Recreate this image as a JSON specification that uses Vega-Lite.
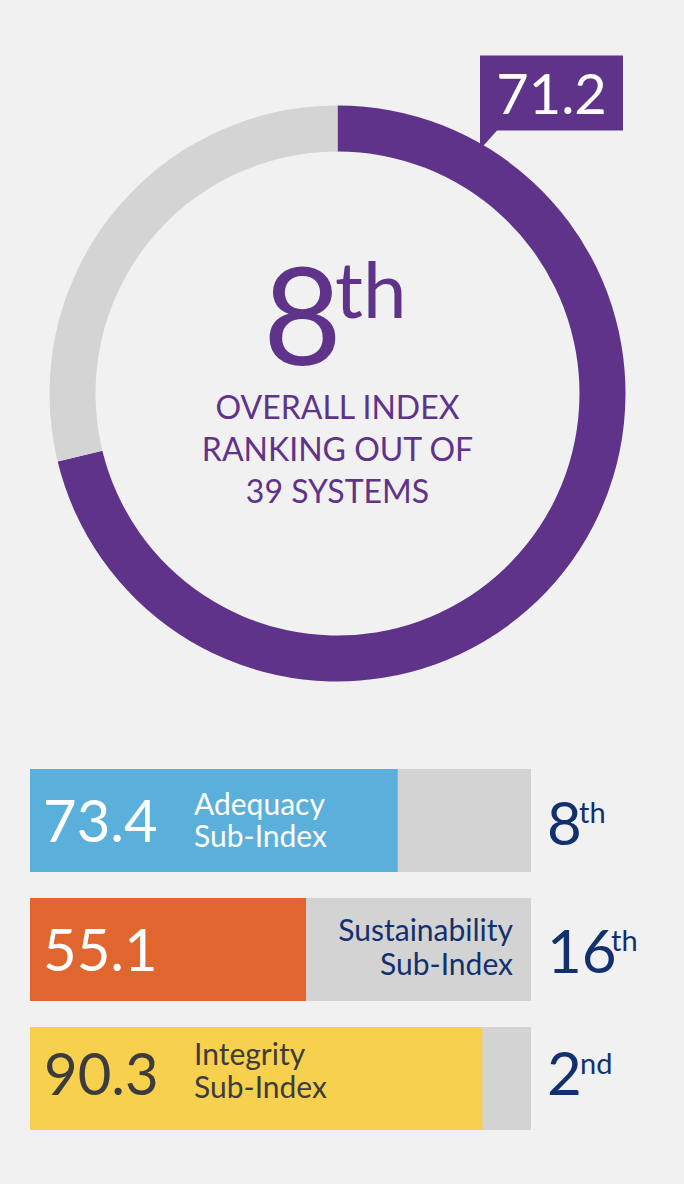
{
  "$schema": "https://vega.github.io/schema/vega-lite/v6.json",
  "width": 684,
  "height": 1184,
  "autosize": "none",
  "padding": 0,
  "background": "#f1f1f1",
  "config": {"view": {"stroke": null}, "font": "Lato", "text": {"font": "Lato"}},
  "datasets": {
    "overall": [
      {"segment": "Overall index", "value": 71.2},
      {"segment": "Remainder", "value": 28.8}
    ],
    "headline": [
      {"score": 71.2, "rank": "8", "suffix": "th", "caption": "OVERALL INDEX\nRANKING OUT OF\n39 SYSTEMS"}
    ],
    "sub": [
      {"index": "Adequacy", "score": 73.4, "rank": "8", "suffix": "th", "label": "Adequacy\nSub-Index"},
      {"index": "Sustainability", "score": 55.1, "rank": "16", "suffix": "th", "label": "Sustainability\nSub-Index"},
      {"index": "Integrity", "score": 90.3, "rank": "2", "suffix": "nd", "label": "Integrity\nSub-Index"}
    ]
  },
  "resolve": {"scale": {"color": "independent"}},
  "layer": [
    {
      "data": {"name": "overall"},
      "mark": {"type": "arc", "outerRadius": 288, "innerRadius": 242},
      "encoding": {
        "x": {"value": 337.5},
        "y": {"value": 393.5},
        "theta": {"field": "value", "type": "quantitative", "stack": true},
        "order": {"field": "segment", "type": "ordinal", "sort": "ascending"},
        "color": {"field": "segment", "type": "nominal", "legend": null,
          "scale": {"domain": ["Overall index", "Remainder"], "range": ["#5f338a", "#d4d4d4"]}}
      }
    },
    {
      "data": {"name": "headline"},
      "mark": {"type": "point", "shape": "M-1,-0.5245H1V0.5245H-0.7622L-1,0.7902Z", "filled": true, "opacity": 1, "size": 20449, "color": "#5f338a", "strokeWidth": 0},
      "encoding": {"x": {"value": 551.5}, "y": {"value": 93}}
    },
    {
      "data": {"name": "headline"},
      "mark": {"type": "text", "fontSize": 56, "color": "#ffffff", "align": "center", "baseline": "alphabetic"},
      "encoding": {"x": {"value": 551.5}, "y": {"value": 114}, "text": {"field": "score", "type": "quantitative", "format": ".1f"}}
    },
    {
      "data": {"name": "headline"},
      "mark": {"type": "text", "fontSize": 136, "color": "#5f338a", "align": "center", "baseline": "alphabetic"},
      "encoding": {"x": {"value": 302.5}, "y": {"value": 365}, "text": {"field": "rank"}}
    },
    {
      "data": {"name": "headline"},
      "mark": {"type": "text", "fontSize": 78, "color": "#5f338a", "align": "left", "baseline": "alphabetic"},
      "encoding": {"x": {"value": 335}, "y": {"value": 318}, "text": {"field": "suffix"}}
    },
    {
      "data": {"name": "headline"},
      "mark": {"type": "text", "fontSize": 32, "color": "#5f338a", "align": "center", "baseline": "alphabetic", "lineBreak": "\n", "lineHeight": 42},
      "encoding": {"x": {"value": 337.5}, "y": {"value": 419}, "text": {"field": "caption"}}
    },
    {
      "data": {"name": "sub"},
      "mark": {"type": "bar", "color": "#d3d3d3"},
      "encoding": {
        "x": {"datum": 0, "type": "quantitative", "axis": null, "scale": {"domain": [0, 100], "range": [30, 531], "nice": false, "zero": false}},
        "x2": {"datum": 100},
        "y": {"field": "index", "type": "nominal", "axis": null, "sort": ["Adequacy", "Sustainability", "Integrity"],
          "scale": {"range": [769, 1130], "paddingInner": 0.2016, "paddingOuter": 0}}
      }
    },
    {
      "data": {"name": "sub"},
      "mark": {"type": "bar"},
      "encoding": {
        "x": {"field": "score", "type": "quantitative"},
        "x2": {"datum": 0},
        "y": {"field": "index", "type": "nominal", "sort": ["Adequacy", "Sustainability", "Integrity"]},
        "color": {"field": "index", "type": "nominal", "legend": null,
          "scale": {"domain": ["Adequacy", "Sustainability", "Integrity"], "range": ["#5ab0da", "#e0652f", "#f7d04d"]}}
      }
    },
    {
      "data": {"name": "sub"},
      "transform": [{"filter": "datum.index === 'Adequacy'"}],
      "encoding": {"y": {"field": "index", "type": "nominal", "sort": ["Adequacy", "Sustainability", "Integrity"]}},
      "layer": [
        {
          "mark": {"type": "text", "fontSize": 58, "align": "left", "baseline": "alphabetic", "dx": 13, "dy": 21.5, "color": "#ffffff"},
          "encoding": {"x": {"datum": 0, "type": "quantitative"}, "text": {"field": "score", "type": "quantitative", "format": ".1f"}}
        },
        {
          "mark": {"type": "text", "fontSize": 30, "align": "left", "baseline": "alphabetic", "dx": 164, "dy": -5.5, "lineBreak": "\n", "lineHeight": 32, "color": "#ffffff"},
          "encoding": {"x": {"datum": 0, "type": "quantitative"}, "text": {"field": "label"}}
        },
        {
          "mark": {"type": "text", "fontSize": 60, "align": "left", "baseline": "alphabetic", "dx": 16, "dy": 24.5, "color": "#13306e"},
          "encoding": {"x": {"datum": 100, "type": "quantitative"}, "text": {"field": "rank"}}
        },
        {
          "mark": {"type": "text", "fontSize": 29, "align": "left", "baseline": "alphabetic", "dx": 48, "dy": 2.5, "color": "#13306e"},
          "encoding": {"x": {"datum": 100, "type": "quantitative"}, "text": {"field": "suffix"}}
        }
      ]
    },
    {
      "data": {"name": "sub"},
      "transform": [{"filter": "datum.index === 'Sustainability'"}],
      "encoding": {"y": {"field": "index", "type": "nominal", "sort": ["Adequacy", "Sustainability", "Integrity"]}},
      "layer": [
        {
          "mark": {"type": "text", "fontSize": 58, "align": "left", "baseline": "alphabetic", "dx": 13, "dy": 21.5, "color": "#ffffff"},
          "encoding": {"x": {"datum": 0, "type": "quantitative"}, "text": {"field": "score", "type": "quantitative", "format": ".1f"}}
        },
        {
          "mark": {"type": "text", "fontSize": 30, "align": "right", "baseline": "alphabetic", "dx": -18, "dy": -8.5, "lineBreak": "\n", "lineHeight": 34, "color": "#13306e"},
          "encoding": {"x": {"datum": 100, "type": "quantitative"}, "text": {"field": "label"}}
        },
        {
          "mark": {"type": "text", "fontSize": 60, "align": "left", "baseline": "alphabetic", "dx": 16, "dy": 23.5, "color": "#13306e"},
          "encoding": {"x": {"datum": 100, "type": "quantitative"}, "text": {"field": "rank"}}
        },
        {
          "mark": {"type": "text", "fontSize": 29, "align": "left", "baseline": "alphabetic", "dx": 80, "dy": 1.5, "color": "#13306e"},
          "encoding": {"x": {"datum": 100, "type": "quantitative"}, "text": {"field": "suffix"}}
        }
      ]
    },
    {
      "data": {"name": "sub"},
      "transform": [{"filter": "datum.index === 'Integrity'"}],
      "encoding": {"y": {"field": "index", "type": "nominal", "sort": ["Adequacy", "Sustainability", "Integrity"]}},
      "layer": [
        {
          "mark": {"type": "text", "fontSize": 58, "align": "left", "baseline": "alphabetic", "dx": 14, "dy": 16.5, "color": "#3c3c3c"},
          "encoding": {"x": {"datum": 0, "type": "quantitative"}, "text": {"field": "score", "type": "quantitative", "format": ".1f"}}
        },
        {
          "mark": {"type": "text", "fontSize": 30, "align": "left", "baseline": "alphabetic", "dx": 164, "dy": -13.5, "lineBreak": "\n", "lineHeight": 33, "color": "#3c3c3c"},
          "encoding": {"x": {"datum": 0, "type": "quantitative"}, "text": {"field": "label"}}
        },
        {
          "mark": {"type": "text", "fontSize": 60, "align": "left", "baseline": "alphabetic", "dx": 16, "dy": 16.5, "color": "#13306e"},
          "encoding": {"x": {"datum": 100, "type": "quantitative"}, "text": {"field": "rank"}}
        },
        {
          "mark": {"type": "text", "fontSize": 29, "align": "left", "baseline": "alphabetic", "dx": 49, "dy": -4.5, "color": "#13306e"},
          "encoding": {"x": {"datum": 100, "type": "quantitative"}, "text": {"field": "suffix"}}
        }
      ]
    }
  ]
}
